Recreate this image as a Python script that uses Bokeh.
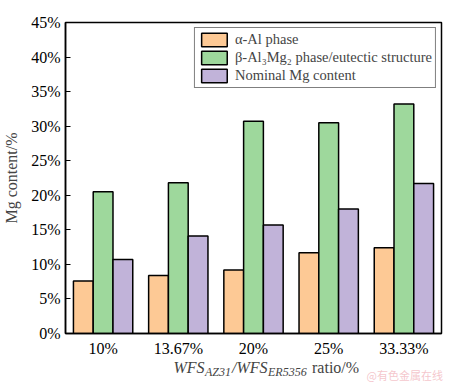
from bokeh.plotting import figure
from bokeh.layouts import column
from bokeh.models import (FactorRange, FixedTicker, PrintfTickFormatter, Legend,
                          LegendItem, Label, ColumnDataSource, Range1d)
from bokeh.transform import dodge
from bokeh.embed import file_html
from bokeh.resources import INLINE

categories = ["10%", "13.67%", "20%", "25%", "33.33%"]
alpha_al = [7.6, 8.4, 9.2, 11.7, 12.4]
beta_eutectic = [20.5, 21.8, 30.7, 30.5, 33.2]
nominal_mg = [10.7, 14.1, 15.7, 18.0, 21.7]
series_names = ["\u03b1-Al phase", "\u03b2-Al\u2083Mg\u2082 phase/eutectic structure", "Nominal Mg content"]
y_ticks = [0, 5, 10, 15, 20, 25, 30, 35, 40, 45]

colors = ["#FDC995", "#9ED89C", "#C1B3D9"]
FONT = "Liberation Serif"

src = ColumnDataSource(dict(cat=categories, a=alpha_al, b=beta_eutectic, n=nominal_mg))

p = figure(width=449, height=359, x_range=FactorRange(factors=categories, range_padding=0),
           y_range=(0, 45), output_backend="svg", toolbar_location=None,
           min_border_left=60, min_border_right=8, min_border_top=22, min_border_bottom=26)

bw = 0.263
renderers = []
for key, off, c in zip(["a", "b", "n"], [-bw, 0, bw], colors):
    r = p.vbar(x=dodge("cat", off, range=p.x_range), top=key, width=bw, source=src,
               fill_color=c, line_color="black", line_width=1.5)
    renderers.append(r)

p.xgrid.visible = False
p.ygrid.visible = False
p.outline_line_color = "black"
p.outline_line_width = 1.5
p.background_fill_color = "white"
p.border_fill_color = "white"

p.yaxis.ticker = FixedTicker(ticks=y_ticks)
p.yaxis.formatter = PrintfTickFormatter(format="%d%%")
p.yaxis.major_tick_in = 5
p.yaxis.major_tick_out = 0
p.yaxis.minor_tick_line_color = None
p.yaxis.axis_label = "Mg content/%"
p.yaxis.axis_label_text_font = FONT
p.yaxis.axis_label_text_font_style = "normal"
p.yaxis.axis_label_text_font_size = "16px"
p.yaxis.axis_label_standoff = 8
p.yaxis.major_label_standoff = 5

p.xaxis.major_tick_line_color = None
p.xaxis.major_tick_in = 0
p.xaxis.major_tick_out = 0
p.xaxis.major_label_standoff = 6

for ax in (p.xaxis, p.yaxis):
    ax.axis_line_width = 1.5
    ax.axis_line_color = "black"
    ax.major_label_text_font = FONT
    ax.major_label_text_font_size = "16px"
    ax.major_label_text_color = "black"
    ax.major_tick_line_width = 1.2

legend = Legend(items=[LegendItem(label=n, renderers=[r]) for n, r in zip(series_names, renderers)],
                location="top_right", label_text_font=FONT, label_text_font_size="14.5px",
                glyph_width=32, glyph_height=17, label_height=17, label_standoff=5,
                spacing=1, padding=3, margin=5, border_line_color="black",
                border_line_width=1.5, background_fill_alpha=1)
p.add_layout(legend)

# strip below the chart holding the x-axis title (with subscripts) and the watermark
p2 = figure(width=449, height=24, x_range=Range1d(0, 1), y_range=Range1d(0, 1),
            output_backend="svg", toolbar_location=None,
            min_border_left=0, min_border_right=0, min_border_top=0, min_border_bottom=0)
p2.frame_align = False
p2.axis.visible = False
p2.grid.visible = False
p2.outline_line_color = None
p2.background_fill_color = "white"
p2.border_fill_color = "white"

parts = [("WFS", "italic", "16px", 0), ("AZ31", "italic", "12px", -4),
         ("/WFS", "italic", "16px", 0), ("ER5356", "italic", "12px", -4),
         ("ratio/%", "normal", "16px", 0)]
widths = [31.5, 27.0, 36.0, 44.0, 0]
x0 = 173
base_y = 16
for (t, st, sz, dy), w in zip(parts, widths):
    p2.add_layout(Label(x=x0, y=base_y + dy, x_units="screen", y_units="screen", text=t,
                        text_font=FONT, text_font_style=st, text_font_size=sz,
                        text_baseline="alphabetic"))
    x0 += w

p2.add_layout(Label(x=366, y=9, x_units="screen", y_units="screen", text="@有色金属在线",
                    text_font="Noto Sans CJK SC", text_font_size="11px",
                    text_color="#F2B8C0", text_alpha=0.8, text_baseline="alphabetic"))

layout = column(p, p2, spacing=0)
open("out.html", "w").write(file_html(layout, INLINE))
